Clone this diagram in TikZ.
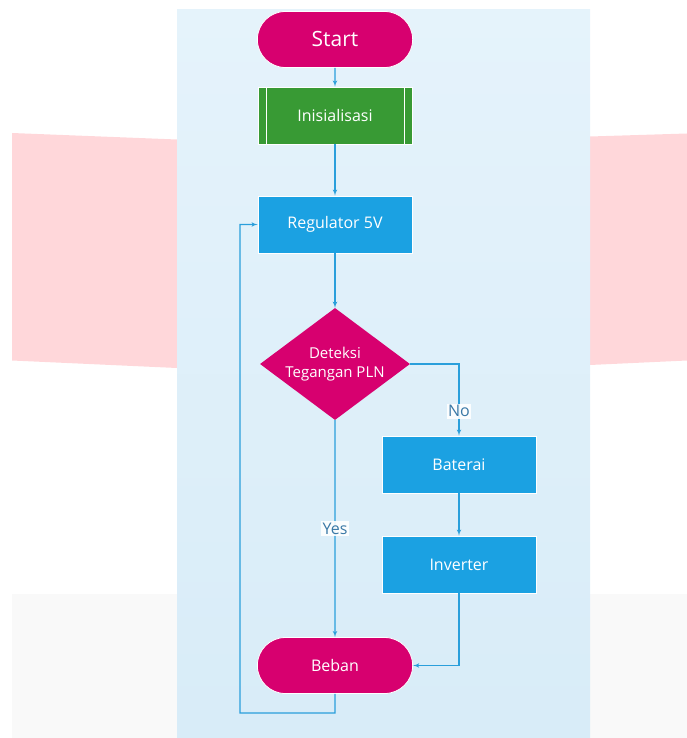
\documentclass[tikz,border=0pt]{standalone}
\usepackage{fontspec}
\setmainfont{Open Sans}
\usepackage{xcolor}
\usepackage{tikz}
\usetikzlibrary{arrows,calc,shapes,positioning}
\definecolor{magentaFC}{HTML}{D7006F}
\definecolor{greenFC}{HTML}{389A34}
\definecolor{blueFC}{HTML}{1BA1E2}
\definecolor{lineFC}{HTML}{2A9FDB}
\definecolor{textFC}{HTML}{3A78A6}
\definecolor{pinkBG}{HTML}{FFD7DA}
\definecolor{greyBG}{HTML}{F9F9F9}
\definecolor{panelTop}{HTML}{E5F3FB}
\definecolor{panelBot}{HTML}{D8ECF8}

\begin{document}
\begin{tikzpicture}[x=1pt,y=-1pt]
\tikzset{terminal/.style = {shape=rounded rectangle,fill=magentaFC,draw=white,line width=0.8pt,text=white,minimum width=162pt,minimum height=56pt,font=\fontsize{16}{19}\selectfont}}
\tikzset{process/.style = {shape=rectangle,fill=blueFC,draw=white,line width=0.8pt,text=white,minimum width=154pt,minimum height=57pt,font=\fontsize{16}{19}\selectfont}}
\tikzset{subproc/.style = {process,fill=greenFC}}
\tikzset{decision/.style = {shape=diamond,fill=magentaFC,text=white,inner sep=0pt,aspect=1.34,minimum width=150pt,minimum height=112pt,align=center,font=\fontsize{15}{19}\selectfont}}
\tikzset{edge/.style = {->,> = latex',draw=lineFC,line width=1.1pt}}
\tikzset{answer/.style = {fill=white,fill opacity=0.9,text opacity=1,text=textFC,inner sep=1.5pt,font=\fontsize{16}{19}\selectfont}}
% background
\useasboundingbox (0,0) rectangle (687,738);
\fill[pinkBG] (12,133) -- (177,139.5) -- (177,368) -- (12,360.5) -- cycle;
\fill[pinkBG] (590,136.5) -- (687,133.5) -- (687,360.5) -- (590,365) -- cycle;
\fill[greyBG] (12,594) rectangle (687,738);
\shade[top color=panelTop,bottom color=panelBot] (177,9.5) rectangle (590,738);
% nodes
\node[terminal,font=\fontsize{21}{24}\selectfont] (start) at (335,39.5) {Start};
\node[subproc] (init) at (335,115.5) {Inisialisasi};
\node[process] (reg) at (335,224.5) {Regulator 5V};
\node[decision] (det) at (335,364) {Deteksi\\Tegangan PLN};
\node[process] (bat) at (459,464.5) {Baterai};
\node[process] (inv) at (459,564.5) {Inverter};
\node[terminal] (beban) at (335,665.5) {Beban};
\draw[white,line width=1.3pt] ($(init.north west)+(9,0)$) -- ($(init.south west)+(9,0)$);
\draw[white,line width=1.3pt] ($(init.north east)+(-8,0)$) -- ($(init.south east)+(-8,0)$);
\coordinate (loopA) at (335,713);
\coordinate (loopB) at (240,713);
% connectors
\draw[edge] (start) to (init);
\draw[edge] (init) to (reg);
\draw[edge] (reg) to (det);
\draw[edge] (det.east) -| node[answer,pos=0.83] {No} (bat);
\draw[edge] (det) -- node[answer,pos=0.5] {Yes} (beban);
\draw[edge] (bat) to (inv);
\draw[edge] (inv) |- (beban);
\draw[edge] (beban) -- (loopA) -- (loopB) |- (reg);
\end{tikzpicture}
\end{document}
